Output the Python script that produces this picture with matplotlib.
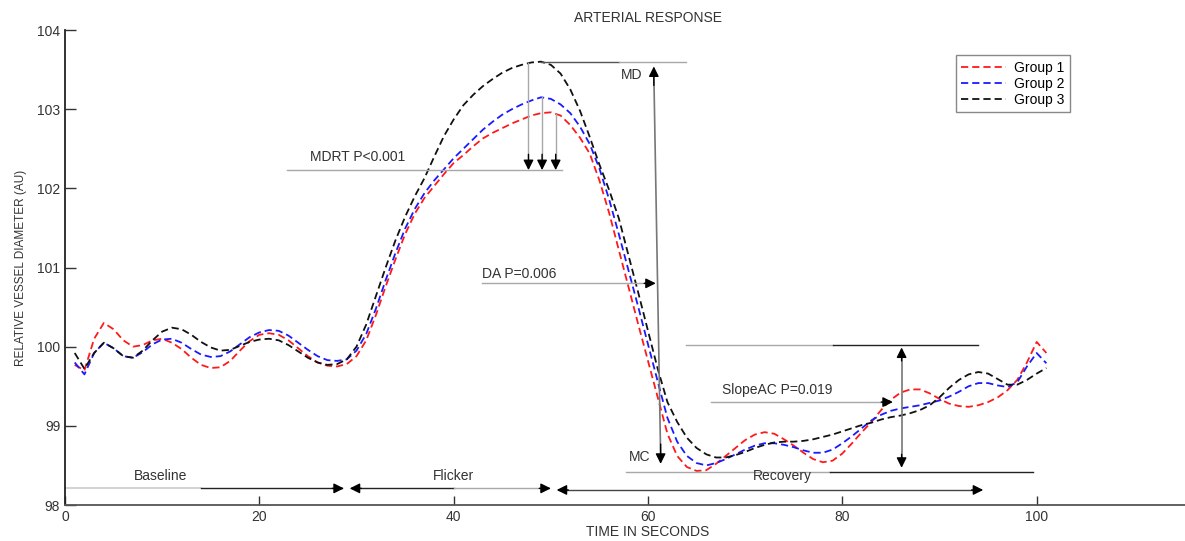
import numpy as np
import matplotlib.pyplot as plt

plt.rcParams['font.family'] = ['Liberation Sans', 'DejaVu Sans']

# time axis (seconds) and the three group curves
time_s = list(range(1, 102))

group1 = [99.77, 99.70, 100.10, 100.30, 100.22, 100.08, 100.00, 100.02, 100.08, 100.10,
          100.05, 99.97, 99.86, 99.77, 99.73, 99.74, 99.82, 99.95, 100.07, 100.15,
          100.17, 100.15, 100.08, 99.98, 99.88, 99.80, 99.76, 99.75, 99.78, 99.88,
          100.08, 100.40, 100.76, 101.10, 101.42, 101.68, 101.88, 102.03, 102.18, 102.32,
          102.42, 102.53, 102.63, 102.70, 102.76, 102.82, 102.87, 102.92, 102.95, 102.96,
          102.92, 102.80, 102.64, 102.44, 102.10, 101.69, 101.22, 100.75, 100.28, 99.82,
          99.36, 98.90, 98.62, 98.48, 98.43, 98.44, 98.52, 98.62, 98.72, 98.82,
          98.89, 98.92, 98.90, 98.83, 98.75, 98.66, 98.58, 98.54, 98.56, 98.65,
          98.78, 98.92, 99.05, 99.20, 99.33, 99.42, 99.46, 99.46, 99.41, 99.34,
          99.28, 99.25, 99.24, 99.26, 99.30, 99.36, 99.45, 99.58, 99.80, 100.06,
          99.92]

group2 = [99.80, 99.65, 99.92, 100.05, 99.98, 99.88, 99.86, 99.93, 100.03, 100.09,
          100.10, 100.05, 99.97, 99.90, 99.87, 99.88, 99.94, 100.03, 100.12, 100.18,
          100.21, 100.20, 100.14, 100.05, 99.96, 99.88, 99.83, 99.82, 99.84, 99.95,
          100.16, 100.48, 100.84, 101.18, 101.49, 101.74, 101.94, 102.10, 102.24, 102.38,
          102.50, 102.62, 102.74, 102.84, 102.93, 103.00, 103.06, 103.11, 103.15, 103.13,
          103.06, 102.95, 102.78, 102.56, 102.25, 101.86, 101.42, 100.96, 100.50, 100.03,
          99.56, 99.10, 98.80, 98.62, 98.53, 98.50, 98.53, 98.58, 98.64, 98.70,
          98.75, 98.78, 98.78, 98.76, 98.73, 98.69, 98.66, 98.66, 98.70, 98.78,
          98.87, 98.97, 99.07, 99.14, 99.19, 99.22, 99.24, 99.26, 99.29, 99.32,
          99.37, 99.43, 99.50, 99.54, 99.54, 99.51, 99.49, 99.55, 99.75, 99.92,
          99.79]

group3 = [99.92, 99.72, 99.92, 100.05, 99.98, 99.88, 99.86, 99.95, 100.08, 100.19,
          100.24, 100.22, 100.15, 100.06, 99.99, 99.95, 99.96, 100.01, 100.06, 100.09,
          100.10, 100.08, 100.02, 99.94, 99.86, 99.80, 99.77, 99.78, 99.84, 100.00,
          100.28, 100.64, 101.00, 101.34, 101.64, 101.90, 102.13, 102.40, 102.66, 102.87,
          103.05, 103.18, 103.29, 103.38, 103.46, 103.52, 103.56, 103.59, 103.60, 103.56,
          103.45, 103.25, 102.98, 102.65, 102.30, 101.98, 101.62, 101.15, 100.68, 100.20,
          99.72, 99.30, 99.05, 98.85, 98.72, 98.64, 98.60, 98.60, 98.63, 98.67,
          98.72, 98.76, 98.79, 98.80, 98.80, 98.81, 98.83, 98.86, 98.89, 98.93,
          98.97, 99.01, 99.04, 99.08, 99.11, 99.13, 99.16, 99.20, 99.26, 99.36,
          99.48, 99.58, 99.65, 99.68, 99.66, 99.59, 99.52, 99.52, 99.58, 99.66,
          99.73]

group_names = ["Group 1", "Group 2", "Group 3"]
group_colors = ["#ff1a1a", "#1a1aff", "#111111"]

phase_names = ["Baseline", "Flicker", "Recovery"]
phase_bounds = [0, 29.0, 50.3, 94.5]
phase_label_x = [9.8, 40.0, 73.8]

mdrt_level = 102.23
mdrt_arrow_x = [47.7, 49.1, 50.5]
da_level = 100.8
slope_level = 99.3
ac_level = 100.02
mc_level = 98.42

fig = plt.figure(figsize=(11.85, 5.41), dpi=100)
ax = fig.add_axes([65 / 1185, 36 / 541, 1166 / 1185, 475 / 541])

for vals, name, col in zip([group1, group2, group3], group_names, group_colors):
    ln, = ax.plot(time_s, vals, color=col, lw=1.3, ls='--', label=name)
    ln.set_dashes((4, 2.2))

GRAY = '#a8a8a8'
DARK = '#222222'
TXT = '#333333'


def head(x0, y0, x1, y1):
    # small black arrow head pointing from (x0,y0) to (x1,y1)
    ax.annotate('', xy=(x1, y1), xytext=(x0, y0),
                arrowprops=dict(arrowstyle='-|>', color='black', lw=1,
                                mutation_scale=15, shrinkA=0, shrinkB=0))


# MDRT
ax.plot([22.8, 51.1], [mdrt_level, mdrt_level], color=GRAY, lw=1)
ax.text(25.2, mdrt_level + 0.12, "MDRT P<0.001", fontsize=10, color=TXT)
for xa, vals in zip(mdrt_arrow_x, [group3, group2, group1]):
    ytop = np.interp(xa, time_s, vals)
    ax.plot([xa, xa], [ytop, mdrt_level + 0.1], color=GRAY, lw=1)
    head(xa, mdrt_level + 0.2, xa, mdrt_level)

# MD / MC
md_level = max(group3)
t_peak = time_s[int(np.argmax(group3))]
ax.plot([t_peak, 57.0], [md_level, md_level], color='#555555', lw=1)
ax.plot([57.0, 63.9], [md_level, md_level], color=GRAY, lw=1)
ax.text(57.2, md_level - 0.22, "MD", fontsize=10, color=TXT)
ax.plot([60.6, 61.3], [md_level - 0.15, mc_level + 0.2], color='#777777', lw=1.2)
head(60.6, md_level - 0.3, 60.6, md_level - 0.06)
head(61.3, mc_level + 0.35, 61.3, mc_level + 0.1)
ax.text(58.0, mc_level + 0.14, "MC", fontsize=10, color=TXT)

# DA
ax.plot([42.9, 60.3], [da_level, da_level], color=GRAY, lw=1)
head(59.6, da_level, 60.8, da_level)
ax.text(42.9, da_level + 0.07, "DA P=0.006", fontsize=10, color=TXT)

# recovery amplitude and slope
ax.plot([57.7, 78.7], [mc_level, mc_level], color=GRAY, lw=1)
ax.plot([78.7, 99.6], [mc_level, mc_level], color=DARK, lw=1)
ax.plot([63.9, 79.0], [ac_level, ac_level], color=GRAY, lw=1)
ax.plot([79.0, 94.0], [ac_level, ac_level], color=DARK, lw=1)
ax.plot([86.1, 86.1], [ac_level - 0.1, mc_level + 0.12], color='#777777', lw=1.2)
head(86.1, ac_level - 0.2, 86.1, ac_level - 0.03)
head(86.1, mc_level + 0.22, 86.1, mc_level + 0.05)
ax.plot([66.5, 84.6], [slope_level, slope_level], color=GRAY, lw=1)
head(84.0, slope_level, 85.2, slope_level)
ax.text(67.6, slope_level + 0.1, "SlopeAC P=0.019", fontsize=10, color=TXT)

# phases along the bottom
yb = 98.21
ax.plot([phase_bounds[0], 14.0], [yb, yb], color='#cccccc', lw=1.2)
ax.plot([14.0, phase_bounds[1] - 0.5], [yb, yb], color=DARK, lw=1)
head(phase_bounds[1] - 1.5, yb, phase_bounds[1] - 0.3, yb)
ax.plot([phase_bounds[1] + 0.5, 40.0], [yb, yb], color=DARK, lw=1)
ax.plot([40.0, phase_bounds[2] - 0.5], [yb, yb], color=GRAY, lw=1)
head(phase_bounds[1] + 1.5, yb, phase_bounds[1] + 0.3, yb)
head(phase_bounds[2] - 1.5, yb, phase_bounds[2] - 0.3, yb)
yr = 98.19
ax.plot([phase_bounds[2] + 0.5, phase_bounds[3] - 0.5], [yr, yr], color='#444444', lw=1)
head(phase_bounds[2] + 1.5, yr, phase_bounds[2] + 0.3, yr)
head(phase_bounds[3] - 1.2, yr, phase_bounds[3], yr)
for name, xm in zip(phase_names, phase_label_x):
    ax.text(xm, yb + 0.1, name, fontsize=10, color=TXT, ha='center')

ax.set_xlim(0, 120)
ax.set_ylim(98, 104)
ax.set_xticks([0, 20, 40, 60, 80, 100])
ax.set_yticks([98, 99, 100, 101, 102, 103, 104])
ax.tick_params(direction='in', width=1, labelsize=10, colors='#333333')
ax.tick_params(axis='x', length=6.5)
ax.tick_params(axis='y', length=8)
ax.spines['top'].set_visible(False)
ax.spines['right'].set_visible(False)
ax.spines['left'].set_color('#222222')
ax.spines['bottom'].set_color('#555555')
ax.spines['left'].set_linewidth(1.3)
ax.spines['bottom'].set_linewidth(1.3)

ax.set_title("ARTERIAL RESPONSE", fontsize=10, color=TXT, pad=6)
ax.set_xlabel("TIME IN SECONDS", fontsize=10, color=TXT, labelpad=1)
ax.set_ylabel("RELATIVE VESSEL DIAMETER (AU)", fontsize=8.5, color=TXT, labelpad=7)

leg = ax.legend(loc='upper right', bbox_to_anchor=(0.862, 0.947), fontsize=10,
                handlelength=3.2, fancybox=False, framealpha=1, borderpad=0.4,
                labelspacing=0.15, handletextpad=0.6, borderaxespad=0)
leg.get_frame().set_edgecolor('#888888')

fig.savefig("out.png", dpi=100)
